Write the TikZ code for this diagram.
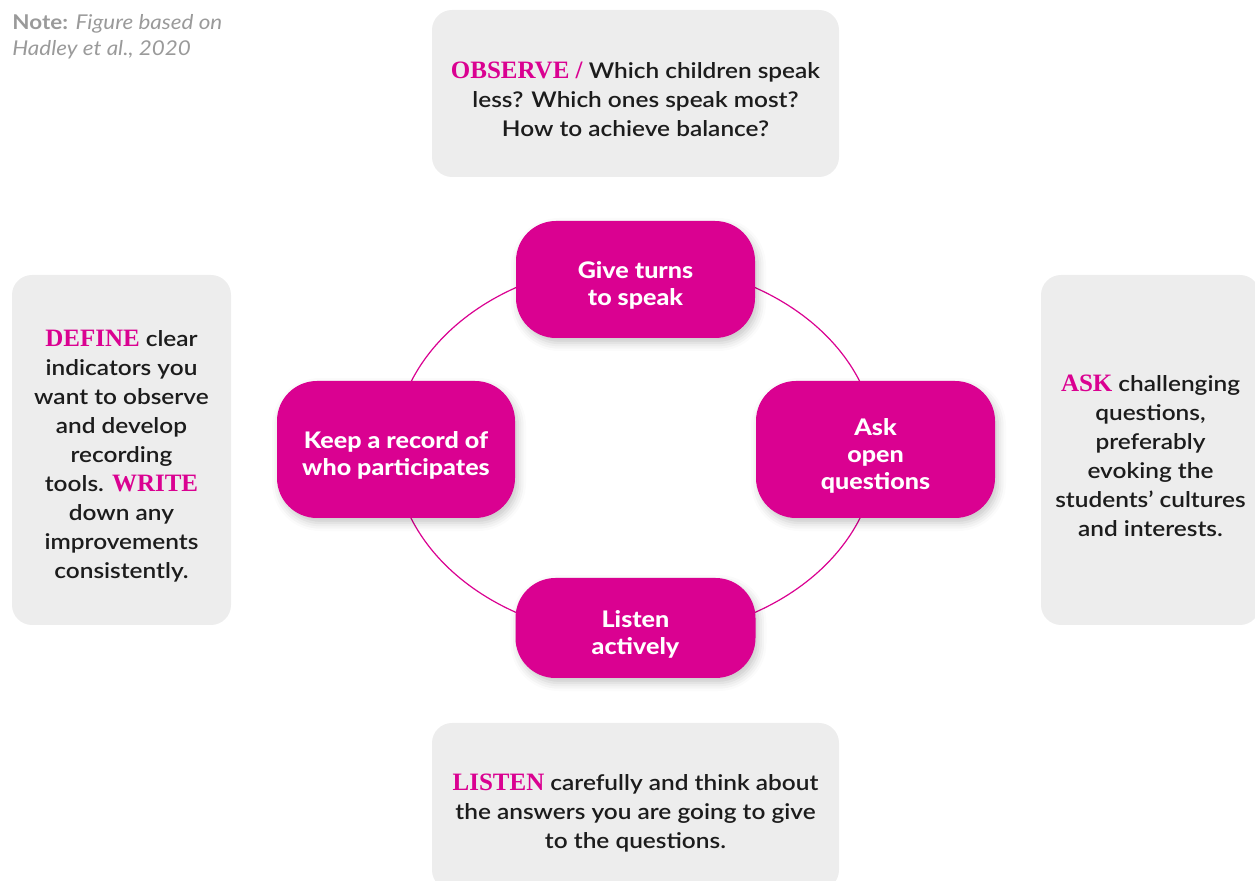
\documentclass[tikz,border=0pt]{standalone}
\usepackage{fontspec}
\usetikzlibrary{shadows.blur}
\setmainfont{Lato}
\IfFontExistsTF{Lato Semibold}{\newfontfamily\bodyfont{Lato Semibold}[FakeStretch=1.13]}{\newfontfamily\bodyfont{Lato}[FakeStretch=1.13]}
\IfFontExistsTF{Lato Heavy}{\newfontfamily\pinkfont{Lato Heavy}[FakeStretch=1.1]}{\newfontfamily\pinkfont{Lato Bold}[FakeStretch=1.1]}
\newfontfamily\notefont{Lato}[FakeStretch=1.1]
\newfontfamily\kwfont{Liberation Serif}
\definecolor{pinkmain}{HTML}{DA0191}
\definecolor{boxgrey}{HTML}{EDEDED}
\definecolor{notegray}{HTML}{9A9A9A}
\definecolor{bodytext}{HTML}{1C1C1C}
\newcommand{\kw}[1]{{\kwfont\bfseries\fontsize{12.5}{14}\selectfont\color{pinkmain}#1}}
\newcommand{\lift}{\rule{0pt}{14.5pt}}

\begin{document}
\begin{tikzpicture}[x=0.5pt,y=-0.5pt,
  actionbox/.style={rounded corners=20pt, fill=pinkmain, text=white, align=center,
    inner sep=0pt, font=\pinkfont\fontsize{11.4}{13.5}\selectfont,
    blur shadow={shadow xshift=1.5pt, shadow yshift=-2.5pt, shadow blur radius=4pt, shadow opacity=22}},
  infobox/.style={rounded corners=10pt, fill=boxgrey, text=bodytext, align=center,
    inner sep=0pt, font=\bodyfont\fontsize{10.8}{14.5}\selectfont}]
  \useasboundingbox (0,0) rectangle (1255,881);
  \clip (0,0) rectangle (1255,881);

  % Note
  \node[anchor=north west, inner sep=0pt, align=left, text=notegray,
    font=\notefont\fontsize{10.2}{13}\selectfont] (note) at (12,14)
    {{\bfseries Note:} {\itshape Figure based on}\\{\itshape Hadley et al., 2020}};

  % Ring
  \coordinate (ring) at (635.5,450);
  \draw[pinkmain, line width=0.6pt] (ring) ellipse [x radius=241, y radius=187];

  % Actions
  \node[actionbox, minimum width=119.5pt, minimum height=58.5pt] (turns) at (635.5,279.5) {\lift Give turns\\to speak};
  \node[actionbox, minimum width=119pt, minimum height=68.5pt] (record) at (396,449.5) {\lift Keep a record of\\who participates};
  \node[actionbox, minimum width=119.5pt, minimum height=68.5pt] (openq) at (875.5,449.5) {\lift Ask\\open\\questions};
  \node[actionbox, minimum width=120pt, minimum height=50pt] (actively) at (635.5,628) {\lift Listen\\actively};

  % Advice boxes
  \node[infobox, minimum width=203.5pt, minimum height=83.5pt] (observe) at (635.5,93.5)
    {\lift\kw{OBSERVE /} Which children speak\\less? Which ones speak most?\\How to achieve balance?};
  \node[infobox, minimum width=109.5pt, minimum height=175pt] (define) at (121.5,450)
    {\lift\kw{DEFINE} clear\\indicators you\\want to observe\\and develop\\recording\\tools. \kw{WRITE}\\down any\\improvements\\consistently.};
  \node[infobox, minimum width=109.5pt, minimum height=175pt] (ask) at (1150.5,450)
    {\lift\kw{ASK} challenging\\questions,\\preferably\\evoking the\\students’ cultures\\and interests.};
  \node[infobox, minimum width=203.5pt, minimum height=83.5pt] (listen) at (635.5,806.5)
    {\lift\kw{LISTEN} carefully and think about\\the answers you are going to give\\to the questions.};
\end{tikzpicture}
\end{document}
